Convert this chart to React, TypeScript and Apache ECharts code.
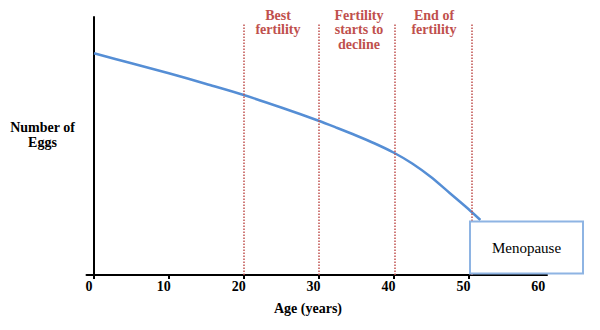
import React, { useEffect, useRef } from "react";
import * as echarts from "echarts";

// Curve: age (years) vs relative number of eggs
const ages = [0, 5, 10, 15, 20, 25, 30, 32.5, 35, 37.5, 40, 42.5, 45, 47.5, 50, 51.6];
const eggs = [88.7, 84.7, 80.7, 76.4, 72.0, 67.0, 61.7, 58.8, 55.8, 52.6, 49.0, 44.6, 39.2, 32.8, 26.4, 22.0];

// Axis ticks / labels
const tickValues = [0, 10, 20, 30, 40, 50];
const tickLabels = [0, 10, 20, 30, 40, 50, 60];

// Dotted boundary lines (ages)
const markerAges = [20, 30, 40.2, 50.4];
const markerTop = 100.8;

// Annotation texts
const phaseLabels = ["Best\nfertility", "Fertility\nstarts to\ndecline", "End of\nfertility"];
const menopauseLabel = "Menopause";
const xName = "Age (years)";
const yName = "Number of\nEggs";

const SERIF = "'Liberation Serif', 'DejaVu Serif', serif";
const RED = "#C0504D";

export default function App() {
  const ref = useRef<HTMLDivElement>(null);
  useEffect(() => {
    if (!ref.current) return;
    const chart = echarts.init(ref.current, null, { renderer: "svg" });
    const phaseX = [278, 359, 434];
    chart.setOption({
      animation: false,
      backgroundColor: "#ffffff",
      grid: { left: 86.5, right: 53, top: 17, bottom: 55, containLabel: false },
      xAxis: {
        type: "value",
        min: -1,
        max: 60.5,
        splitLine: { show: false },
        axisLine: { show: true, onZero: false, lineStyle: { color: "#000", width: 2 } },
        axisTick: { show: true, customValues: tickValues, length: 4, lineStyle: { color: "#000", width: 2 } },
        axisLabel: {
          customValues: tickLabels,
          margin: 4,
          color: "#000",
          fontFamily: SERIF,
          fontWeight: "bold",
          fontSize: 14,
          padding: [0, 10, 0, 0],
        },
      },
      yAxis: {
        type: "value",
        min: 0,
        max: 103.2,
        splitLine: { show: false },
        axisLine: { show: true, onZero: true, lineStyle: { color: "#000", width: 2 } },
        axisTick: { show: false },
        axisLabel: { show: false },
      },
      series: [
        {
          type: "line",
          data: ages.map((a, i) => [a, eggs[i]]),
          smooth: 0.3,
          showSymbol: false,
          symbol: "none",
          lineStyle: { color: "#558ED5", width: 2.5 },
          z: 3,
          markLine: {
            silent: true,
            symbol: ["none", "none"],
            label: { show: false },
            lineStyle: { color: RED, type: "dotted", width: 1.5 },
            data: markerAges.map((a) => [{ coord: [a, 0] }, { coord: [a, markerTop] }]),
          },
        },
      ],
      graphic: [
        ...phaseLabels.map((t, i) => ({
          type: "text",
          x: phaseX[i],
          y: 8,
          style: {
            text: t,
            fill: RED,
            font: `bold 14px ${SERIF}`,
            textAlign: "center",
            textVerticalAlign: "top",
            lineHeight: 14.4,
          },
        })),
        {
          type: "text",
          x: 42.5,
          y: 120,
          style: {
            text: yName,
            fill: "#000",
            font: `bold 14px ${SERIF}`,
            textAlign: "center",
            textVerticalAlign: "top",
            lineHeight: 15,
          },
        },
        {
          type: "text",
          x: 308,
          y: 301,
          style: {
            text: xName,
            fill: "#000",
            font: `bold 14px ${SERIF}`,
            textAlign: "center",
            textVerticalAlign: "top",
          },
        },
        {
          type: "rect",
          z: 10,
          shape: { x: 470, y: 221.5, width: 113, height: 52 },
          style: { fill: "#fff", stroke: "#8EB4E3", lineWidth: 2 },
        },
        {
          type: "text",
          z: 11,
          x: 526.5,
          y: 240,
          style: {
            text: menopauseLabel,
            fill: "#000",
            font: `15px ${SERIF}`,
            textAlign: "center",
            textVerticalAlign: "top",
            lineHeight: 15,
          },
        },
      ],
    });
    return () => chart.dispose();
  }, []);
  return <div ref={ref} style={{ width: 600, height: 330, position: "absolute", left: 0, top: 0 }} />;
}
